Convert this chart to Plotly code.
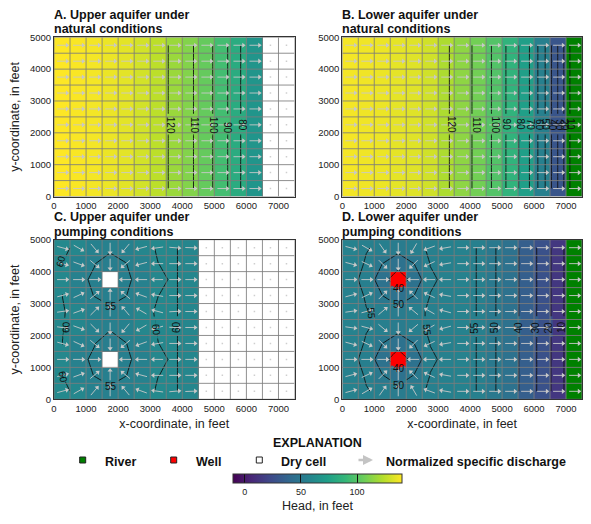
import numpy as np
import plotly.graph_objects as go
from plotly.colors import sample_colorscale

W, H = 591, 524
n = None
x_centers = [250 + 500 * i for i in range(15)]
y_centers = [250 + 500 * i for i in range(10)]
x_edges = [500 * i for i in range(16)]
y_edges = [500 * i for i in range(11)]
x_ticks = [0, 1000, 2000, 3000, 4000, 5000, 6000, 7000]
y_ticks = [0, 1000, 2000, 3000, 4000, 5000]

# heads by column (rows identical) for natural conditions
head_a_row = [140, 139, 138, 136, 134, 130, 125, 117, 111.5, 104, 94, 82, 68, n, n]
head_b_row = [138, 137, 136, 134.5, 133, 129.5, 121.5, 114, 107.5, 98.5, 87, 74, 55, 29.5, 3.25]

# heads, rows from y=250 upward
head_c = [
    [60.4, 59.6, 56.0, 55.4, 56.0, 59.0, 60.3, 60.25, 59.0, n, n, n, n, n, n],
    [60.05, 56.0, 54.95, 54.3, 54.95, 56.5, 59.98, 60.25, 59.0, n, n, n, n, n, n],
    [59.8, 55.5, 54.7, n, 54.7, 55.6, 59.625, 60.25, 59.0, n, n, n, n, n, n],
    [60.02, 56.0, 55.1, 54.0, 54.95, 56.5, 59.99, 60.25, 59.0, n, n, n, n, n, n],
    [60.15, 59.0, 56.0, 55.25, 56.0, 59.5, 60.1, 60.25, 59.0, n, n, n, n, n, n],
    [60.25, 59.0, 56.0, 55.4, 56.0, 59.5, 60.2, 60.25, 59.0, n, n, n, n, n, n],
    [60.02, 56.0, 54.95, 54.3, 54.95, 56.5, 59.99, 60.25, 59.0, n, n, n, n, n, n],
    [59.8, 55.5, 54.7, n, 54.7, 55.6, 59.625, 60.25, 59.0, n, n, n, n, n, n],
    [60.02, 56.0, 55.1, 54.0, 54.95, 56.5, 59.99, 60.25, 59.0, n, n, n, n, n, n],
    [60.4, 59.6, 56.0, 55.5, 56.0, 59.0, 60.3, 60.25, 59.0, n, n, n, n, n, n],
]
head_d_tail = [56.5, 54.8, 50.5, 46, 35, 27.5, 14, 3.25]
head_d_left = [
    [56.3, 55.12, 54.62, 52.3, 54.66, 55.16, 56.0],
    [56.0, 54.8, 50.3, 46.0, 50.3, 55.1, 55.9],
    [55.5, 54.5, 46.0, 30.0, 46.0, 54.5, 55.6],
    [56.0, 54.8, 50.05, 46.0, 50.05, 55.1, 55.9],
    [56.3, 55.12, 54.62, 52.3, 54.66, 55.16, 56.0],
    [56.3, 55.08, 54.58, 52.3, 54.66, 55.16, 56.0],
    [56.0, 54.8, 50.05, 46.0, 50.05, 55.1, 55.9],
    [55.5, 54.5, 46.0, 30.0, 46.0, 54.5, 55.6],
    [56.0, 54.8, 50.05, 46.0, 50.05, 55.1, 55.9],
    [56.3, 55.12, 54.62, 52.3, 54.66, 55.16, 56.0],
]

# discharge direction in degrees, rows from y=250 upward, first columns; the rest point east
angle_c = [
    [15, 30, 50, 90, 130, 160, 172, 5, 2],
    [15, 20, 40, 90, 140, 165, 180, 0, 0],
    [0, 0, 0, n, 180, 180, 180, 0, 0],
    [-15, -25, -40, -90, -140, -160, -170, 0, 0],
    [-8, -20, -45, -90, -130, -150, -165, -3, 0],
    [8, 20, 45, 90, 130, 150, 165, 3, 0],
    [15, 25, 40, 90, 140, 160, 170, 0, 0],
    [0, 0, 0, n, 180, 180, 180, 0, 0],
    [-15, -20, -40, -90, -140, -165, 180, 0, 0],
    [-15, -30, -50, -90, -130, -165, -172, -5, -2],
]
angle_d = [
    [15, 30, 55, 90, 120, 160, 170, 0],
    [15, 25, 45, 90, 135, 155, 170, 0],
    [0, 0, 0, n, 180, 180, 180, 0],
    [-15, -25, -45, -90, -135, -155, -170, 0],
    [-8, -15, -40, -90, -140, -150, -165, 0],
    [8, 15, 40, 90, 140, 150, 165, 0],
    [15, 25, 45, 90, 135, 155, 170, 0],
    [0, 0, 0, n, 180, 180, 180, 0],
    [-15, -25, -45, -90, -135, -155, -170, 0],
    [-15, -30, -55, -90, -120, -160, -170, 0],
]
well_cells_rc = [(2, 3), (7, 3)]
river_col = 14
titles = [("A. Upper aquifer under", "natural conditions"), ("B. Lower aquifer under", "natural conditions"),
          ("C. Upper aquifer under", "pumping conditions"), ("D. Lower aquifer under", "pumping conditions")]
legend_labels = ["River", "Well", "Dry cell", "Normalized specific discharge"]

# contour labels: text, x, y, rotation
labels_a = [("120", 3620, 2250, 90), ("110", 4360, 2250, 90), ("100", 4960, 2250, 90), ("90", 5430, 2150, 90), ("80", 5880, 2250, 90)]
labels_b = [("120", 3400, 2250, 90), ("110", 4180, 2250, 90), ("100", 4790, 2250, 90), ("90", 5130, 2250, 90),
            ("80", 5570, 2250, 90), ("70", 5880, 2250, 90), ("60", 6150, 2250, 90), ("50", 6350, 2250, 90),
            ("40", 6580, 2250, 90), ("30", 6800, 2250, 90), ("20", 6930, 2250, 90), ("10", 7140, 2250, 90)]
labels_c = [("55", 1776, 400, 0), ("55", 1776, 2900, 0), ("60", 207, 4320, -75), ("60", 364, 2260, -88),
            ("60", 290, 690, 80), ("60", 3180, 2175, 85), ("60", 3800, 2260, -90)]
labels_d = [("40", 1776, 950, 0), ("50", 1776, 430, 0), ("40", 1776, 3480, 0), ("50", 1776, 2960, 0),
            ("55", 920, 2700, 85), ("55", 2640, 2175, 85), ("55", 4130, 2250, -90), ("50", 4770, 2250, -90),
            ("40", 5500, 2250, -90), ("30", 6030, 2250, -90), ("20", 6440, 2250, -90), ("10", 6860, 2250, -90)]

# stretches of the contour lines hidden behind a label: head shown there, polyline x, polyline y
gaps_c = [
    (55.4, [1486, 1750, 2000], [606, 432, 606]), (55.4, [1486, 1750, 2000], [3117, 2932, 3117]),
    (60.0, [343, 300, 250], [4530, 4350, 4250]), (60.0, [350, 370, 340], [2560, 2260, 1930]),
    (60.0, [430, 370, 300], [1000, 700, 550]), (60.0, [3090, 3130, 3190], [2590, 2250, 1900]),
    (60.0, [3833, 3833], [2600, 1990]),
]
gaps_d = [
    (54.0, [1486, 1750, 2000], [606, 432, 606]), (52.0, [1486, 1750, 2000], [3117, 2932, 3117]),
    (46.0, [1540, 1750, 1950], [1050, 937, 1050]), (46.0, [1540, 1750, 1950], [3550, 3437, 3550]),
    (55.0, [840, 840], [2250, 2750]), (55.0, [2590, 2590], [1950, 2600]),
    (54.8, [4191, 4191], [1950, 2600]), (50.5, [4805, 4805], [1950, 2600]), (46.0, [5523, 5523], [1950, 2600]),
    (35.0, [6083, 6083], [1950, 2600]), (27.5, [6528, 6528], [1950, 2600]), (14.0, [6936, 6936], [1950, 2600]),
]
gaps_red = [([1505, 1750, 1995], [1160, 1005, 1160]), ([1505, 1750, 1995], [3660, 3505, 3660])]

FONT = "Liberation Sans, Arial, sans-serif"
GRID = "rgba(125,125,125,0.85)"
ARROW = "#c8c8c8"
CMIN, CMAX = -10.5, 140

head_a = np.array([head_a_row] * 10, dtype=float)
head_b = np.array([head_b_row] * 10, dtype=float)
head_c = np.array(head_c, dtype=float)
head_d = np.array([r + head_d_tail for r in head_d_left], dtype=float)


def full_angles(table, ncols_wet):
    out = np.full((10, 15), np.nan)
    for r, row in enumerate(table):
        for c in range(15):
            if c < len(row):
                out[r, c] = np.nan if row[c] is None else row[c]
            elif c < ncols_wet:
                out[r, c] = 0
    return out


def head_color(v):
    return sample_colorscale("Viridis", [(v - CMIN) / (CMAX - CMIN)])[0]


def level_gaps(row, levels):
    """Hide each straight contour between y=1950 and y=2600 where it crosses the row."""
    out = []
    for lev in levels:
        for a, b, xa_, xb_ in zip(row[:-1], row[1:], x_centers[:-1], x_centers[1:]):
            if a is None or b is None:
                continue
            if a > lev >= b:
                xc = xa_ + 500 * (a - lev) / (a - b)
                cell = a if xc < xa_ + 250 else b
                out.append((None if xc >= 7000 else cell, [xc, xc], [1950, 2600]))
    return out


ang_a = full_angles([[0] * 13] * 10, 13)
ang_b = full_angles([[0] * 15] * 10, 15)
ang_c = full_angles(angle_c, 9)
ang_d = full_angles(angle_d, 15)

panels = [
    dict(z=head_a, ang=ang_a, river=False, well=False, levels=[(80, 120, 10)], dom=(54, 294.5, 37.3, 196.5), wet=13,
         labels=labels_a, gaps=level_gaps(head_a_row, [80, 90, 100, 110, 120]), ty=(15, 29)),
    dict(z=head_b, ang=ang_b, river=True, well=False, levels=[(10, 120, 10)], dom=(342.3, 582, 37.3, 196.5), wet=15,
         labels=labels_b, gaps=level_gaps(head_b_row, list(range(10, 130, 10))), ty=(15, 29)),
    dict(z=head_c, ang=ang_c, river=False, well=False, levels=[(55, 60, 5)], dom=(54, 294.5, 239.7, 399.3), wet=9,
         labels=labels_c, gaps=gaps_c, ty=(217, 232)),
    dict(z=head_d, ang=ang_d, river=True, well=True, levels=[(10, 50, 10), (55, 55, 1)], dom=(342.3, 582, 239.7, 399.3), wet=15,
         labels=labels_d, gaps=gaps_d, ty=(217, 232)),
]

fig = go.Figure()
L = 310.0  # arrow length in feet

for i, p in enumerate(panels):
    s = "" if i == 0 else str(i + 1)
    xa, ya = "x" + s, "y" + s
    fig.add_trace(go.Heatmap(x=x_centers, y=y_centers, z=p["z"], coloraxis="coloraxis", xaxis=xa, yaxis=ya,
                             hoverongaps=False))
    if p["river"]:
        mask = np.full((10, 15), np.nan)
        mask[:, river_col] = 1
        fig.add_trace(go.Heatmap(x=x_centers, y=y_centers, z=mask, showscale=False, xaxis=xa, yaxis=ya,
                                 colorscale=[[0, "#008000"], [1, "#008000"]]))
    if p["well"]:
        mask = np.full((10, 15), np.nan)
        for r, c in well_cells_rc:
            mask[r, c] = 1
        fig.add_trace(go.Heatmap(x=x_centers, y=y_centers, z=mask, showscale=False, xaxis=xa, yaxis=ya,
                                 colorscale=[[0, "#ff0000"], [1, "#ff0000"]]))
    # contours
    for a, b, st in p["levels"]:
        fig.add_trace(go.Contour(x=x_centers, y=y_centers, z=p["z"], xaxis=xa, yaxis=ya, showscale=False,
                                 autocontour=False, connectgaps=False,
                                 contours=dict(start=a, end=b, size=st, coloring="none", showlabels=False),
                                 line=dict(color="#111", width=0.9, smoothing=0), hoverinfo="skip"))
    # gaps behind contour labels
    for cell, gx_, gy_ in p["gaps"]:
        col = "#008000" if cell is None else head_color(cell)
        fig.add_trace(go.Scatter(x=gx_, y=gy_, mode="lines", line=dict(color=col, width=3.5), xaxis=xa, yaxis=ya,
                                 showlegend=False, hoverinfo="skip"))
    if p["well"]:
        for gx_, gy_ in gaps_red:
            fig.add_trace(go.Scatter(x=gx_, y=gy_, mode="lines", line=dict(color="#ff0000", width=3.5), xaxis=xa,
                                     yaxis=ya, showlegend=False, hoverinfo="skip"))
    # grid
    gx, gy = [], []
    for e in x_edges:
        gx += [e, e, None]
        gy += [0, 5000, None]
    for e in y_edges:
        gx += [0, 7500, None]
        gy += [e, e, None]
    fig.add_trace(go.Scatter(x=gx, y=gy, mode="lines", line=dict(color=GRID, width=1), xaxis=xa, yaxis=ya,
                             showlegend=False, hoverinfo="skip"))
    # arrows
    sx, sy, hx, hy, ha = [], [], [], [], []
    dx, dy = [], []
    for r, yc in enumerate(y_centers):
        for c, xc in enumerate(x_centers):
            t = p["ang"][r, c]
            if np.isnan(t):
                if c >= p["wet"]:
                    dx.append(xc)
                    dy.append(yc)
                continue
            ca, sa = np.cos(np.radians(t)), np.sin(np.radians(t))
            sx += [xc - L / 2 * ca, xc + L / 2 * ca, None]
            sy += [yc - L / 2 * sa, yc + L / 2 * sa, None]
            hx.append(xc + L / 2 * ca)
            hy.append(yc + L / 2 * sa)
            ha.append(90 - t)
    fig.add_trace(go.Scatter(x=sx, y=sy, mode="lines", line=dict(color=ARROW, width=0.9), xaxis=xa, yaxis=ya,
                             showlegend=False, hoverinfo="skip"))
    fig.add_trace(go.Scatter(x=hx, y=hy, mode="markers", xaxis=xa, yaxis=ya, showlegend=False, hoverinfo="skip",
                             marker=dict(symbol="triangle-up", size=4.5, color=ARROW, angle=ha, line=dict(width=0))))
    if dx:
        fig.add_trace(go.Scatter(x=dx, y=dy, mode="markers", xaxis=xa, yaxis=ya, showlegend=False, hoverinfo="skip",
                                 marker=dict(symbol="square", size=1.5, color="#cfcfcf", line=dict(width=0))))
    l, r_, t_, b_ = p["dom"]
    axis_common = dict(showgrid=False, zeroline=False, showline=True, mirror=True, linecolor="#333", linewidth=1,
                       ticks="", tickfont=dict(size=9.5, color="#222", family=FONT))
    fig.update_layout({
        ("xaxis" + s): dict(domain=[l / W, r_ / W], range=[0, 7500], tickvals=x_ticks, anchor=ya, **axis_common),
        ("yaxis" + s): dict(domain=[1 - b_ / H, 1 - t_ / H], range=[0, 5000], tickvals=y_ticks, anchor=xa, **axis_common),
    })
    if i >= 2:
        fig.update_layout({("xaxis" + s): dict(title=dict(text="x-coordinate, in feet", standoff=6,
                                                          font=dict(size=12.5, color="#222", family=FONT)))})
    if i % 2 == 0:
        fig.update_layout({("yaxis" + s): dict(title=dict(text="y-coordinate, in feet", standoff=7,
                                                          font=dict(size=12.5, color="#222", family=FONT)))})
    for line, ly in zip(titles[i], p["ty"]):
        fig.add_annotation(xref="paper", yref="paper", x=(l - 1) / W, y=1 - ly / H, xanchor="left", yanchor="middle",
                           text="<b>" + line + "</b>", showarrow=False, align="left",
                           font=dict(size=12.5, color="#111", family=FONT), borderpad=0)
    for txt, lx, ly, rot in p["labels"]:
        fig.add_annotation(xref=xa, yref=ya, x=lx, y=ly, text=txt, textangle=rot, showarrow=False, borderpad=0,
                           font=dict(size=10, color="#111", family=FONT))


def px(x):
    return x / W


def py(y):
    return 1 - y / H


def text(x, y, t, size=12, anchor="left"):
    fig.add_annotation(xref="paper", yref="paper", x=px(x), y=py(y), xanchor=anchor, yanchor="middle", text=t,
                       showarrow=False, font=dict(size=size, color="#111", family=FONT))


text(317.7, 442.7, "<b>EXPLANATION</b>", 12.5, "center")
for xt, lab in zip([103, 194, 279, 384], legend_labels):
    text(xt, 462, "<b>" + lab + "</b>", 12.5)
for xc, col in zip([82.7, 173.7, 259.3], ["#008000", "#ff0000", "#ffffff"]):
    fig.add_shape(type="rect", xref="paper", yref="paper", x0=px(xc - 3), x1=px(xc + 3), y0=py(463), y1=py(457),
                  fillcolor=col, line=dict(color="#222", width=1))
fig.add_annotation(xref="paper", yref="paper", axref="pixel", ayref="pixel", x=px(373), y=py(460), ax=-16, ay=0, text="",
                   showarrow=True, arrowcolor="#c4c4c4", arrowwidth=2.5, arrowhead=2, arrowsize=0.8)

fig.update_layout(
    width=W, height=H, margin=dict(l=0, r=0, t=0, b=0, autoexpand=False), autosize=False,
    paper_bgcolor="white", plot_bgcolor="white", showlegend=False,
    font=dict(family=FONT, color="#222"),
    coloraxis=dict(
        colorscale="Viridis", cmin=CMIN, cmax=CMAX,
        colorbar=dict(orientation="h", x=px(233), xanchor="left", y=py(474.3), yanchor="top", len=169 / W,
                      lenmode="fraction", thickness=9, thicknessmode="pixels", xpad=0, ypad=0,
                      tickvals=[0, 50, 100], ticks="inside", ticklen=9, tickcolor="#111", tickwidth=1,
                      tickfont=dict(size=9, color="#222", family=FONT), outlinecolor="#333", outlinewidth=1,
                      title=dict(text="Head, in feet", side="bottom", font=dict(size=12.5, color="#222", family=FONT)))),
)
fig.write_html("out.html", config={"displayModeBar": False}, post_script="document.body.style.margin='0';")
